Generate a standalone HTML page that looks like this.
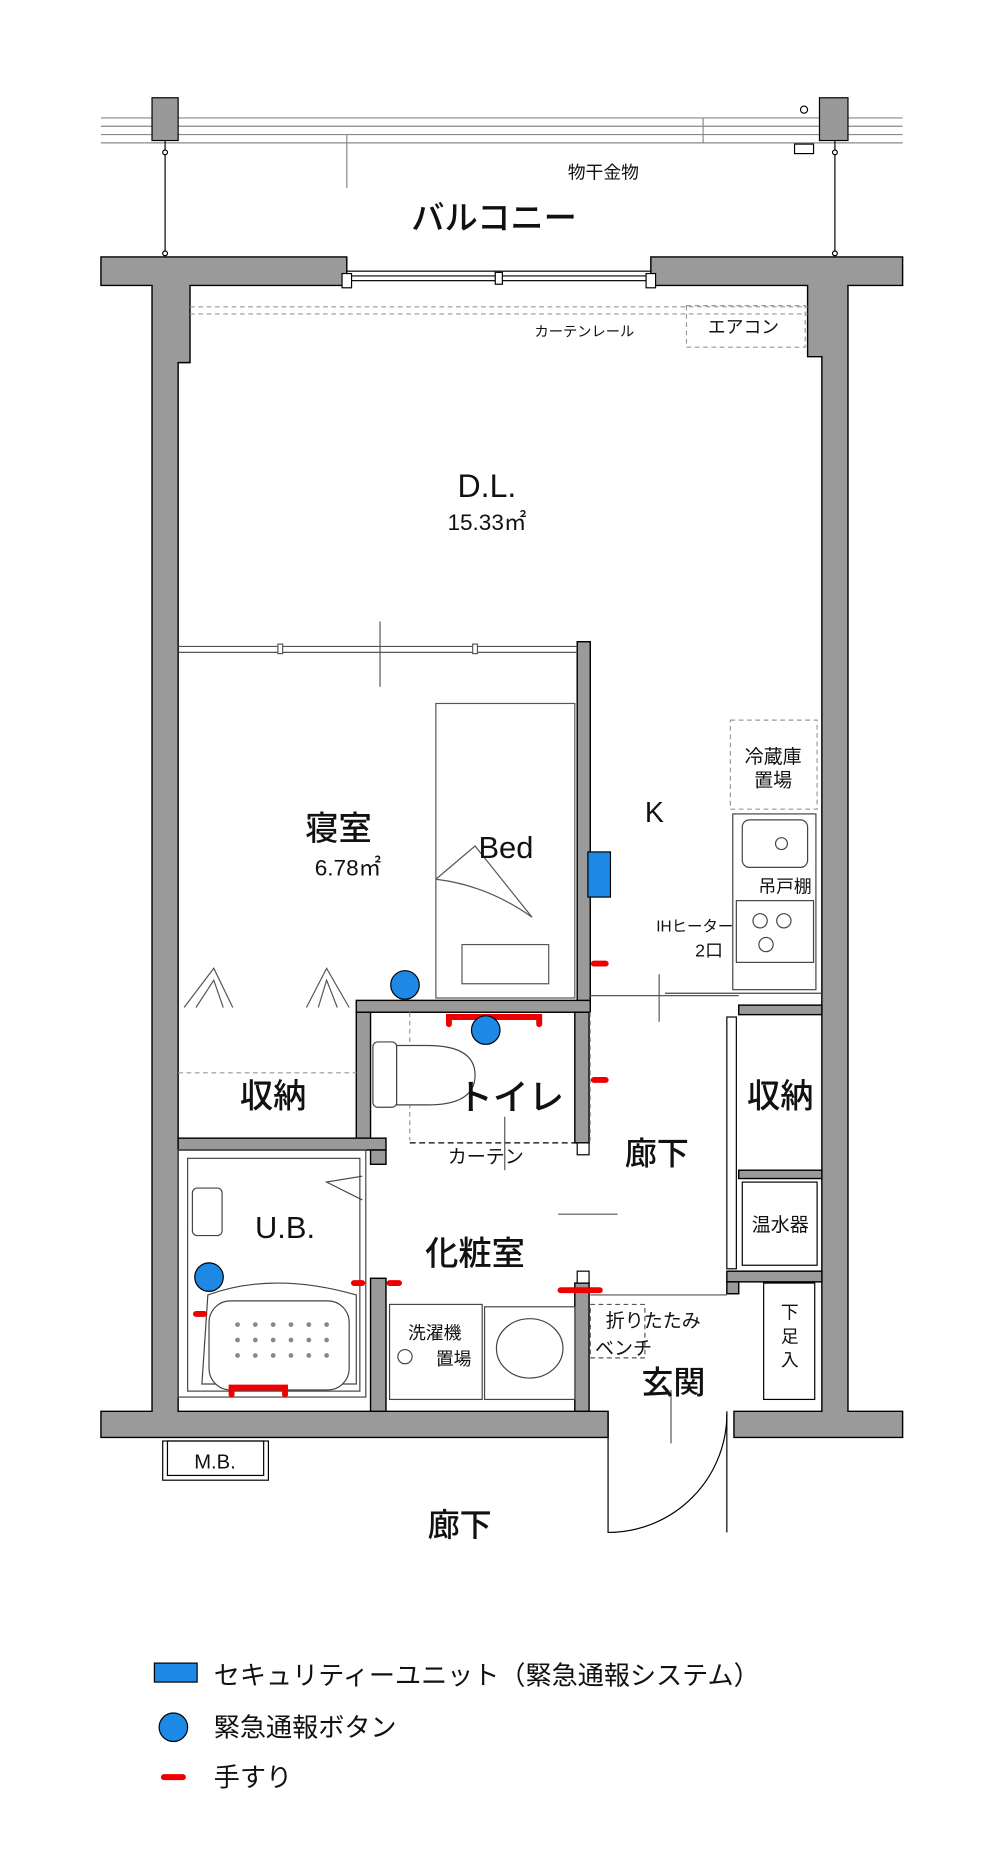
<!DOCTYPE html>
<html><head><meta charset="utf-8"><style>
html,body{margin:0;padding:0;background:#fff;}
svg{display:block;}
text{font-family:"Liberation Sans","Noto Sans CJK JP",sans-serif;fill:#111;}
.b{font-weight:500;}
</style></head><body>
<svg width="1000" height="1863" viewBox="0 0 842 1568" xmlns="http://www.w3.org/2000/svg">
<g stroke="#888" stroke-width="1" fill="none">
<line x1="85" y1="99" x2="760" y2="99"/><line x1="85" y1="106" x2="760" y2="106"/>
<line x1="85" y1="113" x2="760" y2="113"/><line x1="85" y1="120" x2="760" y2="120"/>
<line x1="292" y1="113" x2="292" y2="158"/><line x1="592" y1="99" x2="592" y2="120"/>
</g>
<g stroke="#000" stroke-width="1">
<rect x="128" y="82" width="22" height="36" fill="#999"/>
<rect x="690" y="82" width="24" height="36" fill="#999"/>
<line x1="139" y1="118" x2="139" y2="215"/><line x1="703" y1="118" x2="703" y2="215"/>
<circle cx="139" cy="128" r="2" fill="#fff"/><circle cx="703" cy="128" r="2" fill="#fff"/>
<circle cx="139" cy="213" r="2" fill="#fff"/><circle cx="703" cy="213" r="2" fill="#fff"/>
<circle cx="677" cy="92" r="3" fill="#fff"/>
<rect x="669" y="121" width="16" height="8" fill="#fff"/>
</g>
<text x="508" y="150" font-size="15" text-anchor="middle">物干金物</text>
<text x="416" y="193" font-size="28" text-anchor="middle" class="b">バルコニー</text>
<g fill="#9a9a9a" stroke="#000" stroke-width="1.2">
<path d="M85 216 H292 V240 H160 V305 H150 V1188 H512 V1210 H85 V1188 H128 V240 H85 Z"/>
<path d="M548 216 H760 V240 H714 V1188 H760 V1210 H618 V1188 H692 V300 H680 V240 H548 Z"/>
<rect x="486" y="540" width="11" height="305"/>
<rect x="300" y="842" width="197" height="10"/>
<rect x="300" y="852" width="12" height="108"/>
<rect x="150" y="958" width="175" height="10"/>
<rect x="312" y="968" width="13" height="12"/>
<rect x="312" y="1076" width="13" height="112"/>
<rect x="484" y="852" width="12" height="110"/>
<rect x="484" y="1080" width="12" height="108"/>
<rect x="622" y="846" width="70" height="8"/>
<rect x="622" y="985" width="70" height="7"/>
<rect x="612" y="1070" width="80" height="9"/>
<rect x="612" y="1079" width="10" height="10"/>
</g>
<g stroke="#000" stroke-width="1" fill="#fff">
<rect x="292" y="228" width="256" height="8"/>
<line x1="292" y1="232" x2="548" y2="232"/>
<rect x="288" y="230" width="8" height="12"/><rect x="544" y="230" width="8" height="12"/>
<rect x="417" y="229" width="6" height="10"/>
<rect x="612" y="856" width="8" height="212"/>
<rect x="486" y="962" width="10" height="10"/>
<rect x="486" y="1070" width="10" height="10"/>
</g>
<g stroke="#999" stroke-width="1" stroke-dasharray="4 3" fill="none">
<line x1="160" y1="258" x2="680" y2="258"/><line x1="160" y1="264" x2="680" y2="264"/>
<rect x="578" y="257" width="100" height="35"/>
<rect x="615" y="606" width="73" height="75"/>
<line x1="150" y1="903" x2="300" y2="903"/>
<line x1="345" y1="852" x2="345" y2="960"/>
<line x1="497" y1="852" x2="497" y2="960"/>
</g>
<text x="492" y="283" font-size="12" text-anchor="middle">カーテンレール</text>
<text x="626" y="280" font-size="15" text-anchor="middle">エアコン</text>
<text x="410" y="418" font-size="27" text-anchor="middle" class="b">D.L.</text>
<text x="410" y="446" font-size="19" text-anchor="middle">15.33㎡</text>
<g stroke="#555" stroke-width="1" fill="none">
<line x1="320" y1="523" x2="320" y2="578"/><line x1="150" y1="544" x2="486" y2="544"/><line x1="150" y1="549" x2="486" y2="549"/>
<rect x="234" y="542" width="4" height="8" fill="#fff"/><rect x="398" y="542" width="4" height="8" fill="#fff"/>
<rect x="367" y="592" width="117" height="248"/>
<path d="M367 740 L400 712 L448 772 Q410 745 367 740"/>
<rect x="389" y="795" width="73" height="33"/>
<path d="M155 848 L180 815 L196 848 M165 848 L180 825 L188 848 M258 848 L275 815 L294 848 M268 848 L275 825 L284 848"/>
<line x1="497" y1="838" x2="622" y2="838"/><line x1="555" y1="820" x2="555" y2="860"/>
</g>
<text x="285" y="707" font-size="28" text-anchor="middle" class="b">寝室</text>
<text x="293" y="737" font-size="19" text-anchor="middle">6.78㎡</text>
<text x="426" y="722" font-size="26" text-anchor="middle" class="b">Bed</text>
<text x="551" y="692" font-size="24" text-anchor="middle">K</text>
<text x="651" y="642" font-size="16" text-anchor="middle">冷蔵庫</text>
<text x="651" y="662" font-size="16" text-anchor="middle">置場</text>
<g stroke="#444" stroke-width="1" fill="none">
<rect x="617" y="685" width="70" height="148" fill="#fff"/>
<rect x="625" y="690" width="55" height="40" rx="6"/>
<circle cx="658" cy="710" r="5"/>
<rect x="620" y="758" width="65" height="52"/>
<circle cx="640" cy="775" r="6"/><circle cx="660" cy="775" r="6"/><circle cx="645" cy="795" r="6"/>
<line x1="560" y1="836" x2="692" y2="836"/>
</g>
<text x="661" y="751" font-size="15" text-anchor="middle">吊戸棚</text>
<text x="585" y="784" font-size="13" text-anchor="middle">IHヒーター</text>
<text x="597" y="805" font-size="15" text-anchor="middle">2口</text>
<rect x="495" y="717" width="19" height="38" fill="#1e88e5" stroke="#000" stroke-width="1"/>
<g stroke="#444" stroke-width="1" fill="#fff">
<rect x="314" y="877" width="20" height="55" rx="4"/>
<path d="M334 880 H360 Q400 880 400 905 Q400 930 360 930 H334 Z"/>
<rect x="150" y="968" width="158" height="208" fill="none"/>
<rect x="158" y="975" width="145" height="196" fill="none"/>
<rect x="162" y="1000" width="25" height="40" rx="4"/>
<path d="M175 1090 Q230 1070 300 1090 V1165 H170 Z" fill="none"/>
<rect x="176" y="1095" width="118" height="75" rx="18"/>
<rect x="328" y="1098" width="78" height="80"/>
<circle cx="341" cy="1142" r="6"/>
<rect x="408" y="1100" width="76" height="78"/>
<ellipse cx="446" cy="1135" rx="28" ry="25"/>
<path d="M305 990 L275 995 L305 1010" fill="none"/>
</g>
<g fill="#888"><circle cx="200" cy="1115" r="2"/><circle cx="215" cy="1115" r="2"/><circle cx="230" cy="1115" r="2"/><circle cx="245" cy="1115" r="2"/><circle cx="260" cy="1115" r="2"/><circle cx="275" cy="1115" r="2"/>
<circle cx="200" cy="1128" r="2"/><circle cx="215" cy="1128" r="2"/><circle cx="230" cy="1128" r="2"/><circle cx="245" cy="1128" r="2"/><circle cx="260" cy="1128" r="2"/><circle cx="275" cy="1128" r="2"/>
<circle cx="200" cy="1141" r="2"/><circle cx="215" cy="1141" r="2"/><circle cx="230" cy="1141" r="2"/><circle cx="245" cy="1141" r="2"/><circle cx="260" cy="1141" r="2"/><circle cx="275" cy="1141" r="2"/></g>
<line x1="345" y1="962" x2="484" y2="962" stroke="#000" stroke-dasharray="5 3"/>
<g stroke="#555" fill="none">
<line x1="425" y1="940" x2="425" y2="985"/><line x1="470" y1="1022" x2="520" y2="1022"/>
<line x1="565" y1="1170" x2="565" y2="1215"/>
<path d="M512 1188 V1290 A100 100 0 0 0 612 1188" stroke="#000"/>
<line x1="612" y1="1190" x2="612" y2="1290" stroke="#000"/>
<rect x="497" y="1098" width="46" height="45" stroke-dasharray="4 3"/>
<rect x="643" y="1080" width="43" height="98" stroke="#000"/>
<rect x="625" y="995" width="63" height="70" stroke="#000"/>
<line x1="497" y1="1090" x2="612" y2="1090"/>
</g>
<text x="230" y="932" font-size="28" text-anchor="middle" class="b">収納</text>
<text x="430" y="934" font-size="30" text-anchor="middle" class="b">トイレ</text>
<text x="657" y="932" font-size="28" text-anchor="middle" class="b">収納</text>
<text x="553" y="980" font-size="27" text-anchor="middle" class="b">廊下</text>
<text x="409" y="979" font-size="16" text-anchor="middle">カーテン</text>
<text x="240" y="1042" font-size="26" text-anchor="middle" class="b">U.B.</text>
<text x="400" y="1065" font-size="28" text-anchor="middle" class="b">化粧室</text>
<text x="657" y="1036" font-size="16" text-anchor="middle">温水器</text>
<text x="366" y="1127" font-size="15" text-anchor="middle">洗濯機</text>
<text x="382" y="1149" font-size="15" text-anchor="middle">置場</text>
<text x="550" y="1117" font-size="16" text-anchor="middle">折りたたみ</text>
<text x="525" y="1140" font-size="16" text-anchor="middle">ベンチ</text>
<text x="567" y="1173" font-size="27" text-anchor="middle" class="b">玄関</text>
<text x="665" y="1110" font-size="15" text-anchor="middle">下</text>
<text x="665" y="1130" font-size="15" text-anchor="middle">足</text>
<text x="665" y="1150" font-size="15" text-anchor="middle">入</text>
<rect x="137" y="1213" width="89" height="33" fill="#fff" stroke="#000"/>
<rect x="141" y="1213" width="81" height="29" fill="none" stroke="#000"/>
<text x="181" y="1236" font-size="17" text-anchor="middle">M.B.</text>
<text x="387" y="1293" font-size="27" text-anchor="middle" class="b">廊下</text>
<g stroke="#e00" stroke-width="5" stroke-linecap="round" fill="none">
<line x1="500" y1="811" x2="510" y2="811"/>
<line x1="500" y1="909" x2="510" y2="909"/>
<path d="M378 862 V856 H454 V862"/>
<line x1="328" y1="1080" x2="336" y2="1080"/>
<line x1="472" y1="1086" x2="505" y2="1086"/>
<line x1="165" y1="1106" x2="172" y2="1106"/>
<line x1="298" y1="1080" x2="305" y2="1080"/>
<path d="M195 1174 V1168 H240 V1174"/>
</g>
<g fill="#1e88e5" stroke="#000" stroke-width="1">
<circle cx="341" cy="829" r="12"/><circle cx="409" cy="867" r="12"/><circle cx="176" cy="1075" r="12"/>
<rect x="130" y="1400" width="36" height="16"/>
<circle cx="146" cy="1454" r="12"/>
</g>
<line x1="138" y1="1496" x2="154" y2="1496" stroke="#e00" stroke-width="5" stroke-linecap="round"/>
<text x="180" y="1418" font-size="22">セキュリティーユニット（緊急通報システム）</text>
<text x="180" y="1462" font-size="22">緊急通報ボタン</text>
<text x="180" y="1504" font-size="22">手すり</text>
</svg>
</body></html>
